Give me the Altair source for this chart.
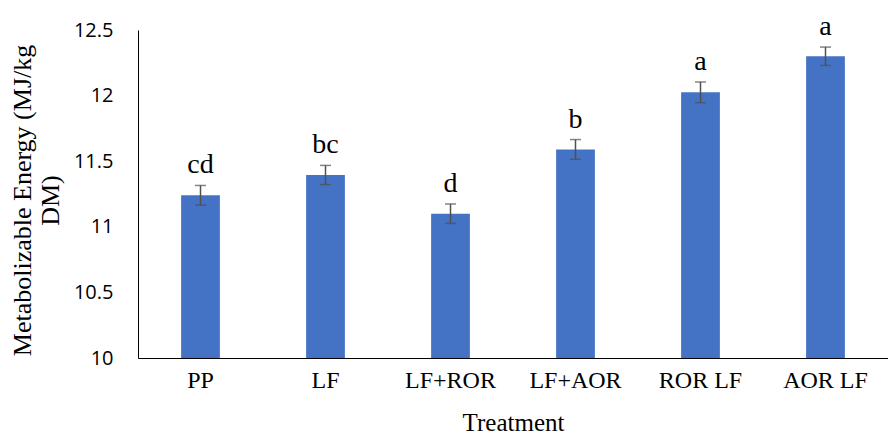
import altair as alt
import pandas as pd

treatments = ["PP", "LF", "LF+ROR", "LF+AOR", "ROR LF", "AOR LF"]
me_values = [11.24, 11.395, 11.10, 11.59, 12.025, 12.30]
se_values = [0.075, 0.073, 0.074, 0.075, 0.079, 0.07]
letters = ["cd", "bc", "d", "b", "a", "a"]

df = pd.DataFrame({
    "Treatment": treatments,
    "ME": me_values,
    "SE": se_values,
    "Letter": letters,
})
df["lo"] = df["ME"] - df["SE"]
df["hi"] = df["ME"] + df["SE"]

xscale = alt.Scale(paddingInner=0.69, paddingOuter=0.345)
x = alt.X("Treatment:N", sort=treatments, scale=xscale,
          axis=alt.Axis(title="Treatment", labelAngle=0, ticks=False, domainColor="#000000",
                        labelFont="Liberation Serif", labelFontSize=24, labelColor="#000000",
                        labelPadding=10, titleFont="Liberation Serif", titleFontSize=25,
                        titleFontWeight="normal", titleColor="#000000", titlePadding=18))
yscale = alt.Scale(domain=[10, 12.5], nice=False, zero=False)
xs = alt.X("Treatment:N", sort=treatments, scale=xscale, title="Treatment")

base = alt.Chart(df)

bars = base.mark_bar(color="#4472C4").encode(
    x=x,
    y=alt.Y("ME:Q", scale=yscale,
            axis=alt.Axis(title=["Metabolizable Energy (MJ/kg", "DM)"], values=[10, 10.5, 11, 11.5, 12, 12.5],
                          grid=False, ticks=False, domainColor="#000000",
                          labelFont="Open Sans", labelFontSize=20, labelColor="#000000",
                          labelPadding=25, titleFont="Liberation Serif", titleFontSize=26,
                          titleFontWeight="normal", titleColor="#000000", titlePadding=10,
                          titleY=170, labelExpr="datum.value")),
    y2=alt.datum(10),
)

err = base.mark_rule(color="#505050", strokeWidth=1.5).encode(
    x=xs,
    y=alt.Y("lo:Q", scale=yscale),
    y2="hi:Q",
)
cap_hi = base.mark_tick(color="#505050", thickness=1.5, size=11, orient="horizontal").encode(
    x=xs,
    y=alt.Y("hi:Q", scale=yscale),
)
cap_lo = base.mark_tick(color="#505050", thickness=1.5, size=11, orient="horizontal").encode(
    x=xs,
    y=alt.Y("lo:Q", scale=yscale),
)
labels = base.mark_text(font="Liberation Serif", fontSize=28, color="#000000",
                        baseline="alphabetic", dy=-12).encode(
    x=xs,
    y=alt.Y("hi:Q", scale=yscale),
    text="Letter:N",
)

chart = alt.layer(bars, err, cap_hi, cap_lo, labels).properties(
    width=750, height=328,
    autosize=alt.AutoSizeParams(type="none"),
    padding={"left": 138, "top": 30, "right": 0, "bottom": 76},
).configure(
    background="white",
    view=alt.ViewConfig(stroke=None),
)

chart.save("out.html", embed_options={"renderer": "svg", "actions": False})
